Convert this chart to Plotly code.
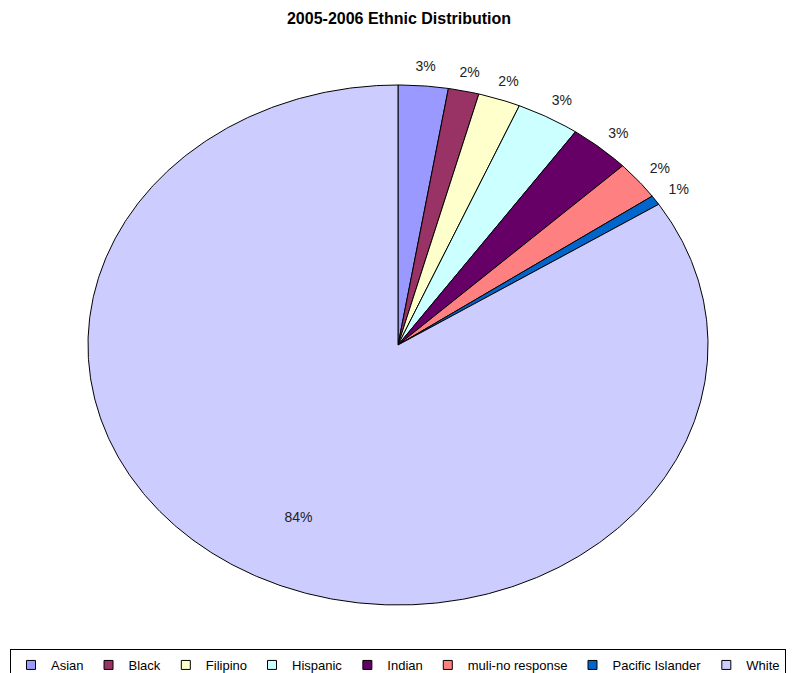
import numpy as np
import plotly.graph_objects as go

# ---- data (percent of students) ----
categories = ["Asian", "Black", "Filipino", "Hispanic", "Indian",
              "muli-no response", "Pacific Islander", "White"]
values = [2.6, 1.6, 2.2, 3.3, 3.2, 2.4, 0.6, 84.1]
colors = ["#9999FF", "#993366", "#FFFFCC", "#CCFFFF", "#660066",
          "#FF8080", "#0066CC", "#CCCCFF"]
title_text = "2005-2006 Ethnic Distribution"

FONT = "Arial, Liberation Sans, sans-serif"

# layout geometry (figure pixels; page body adds an 8px offset)
W, H = 798, 673
CX, CY, RX, RY = 390, 337, 310, 260
# label rings (in units of the pie radius)
OUT_RX, OUT_RY = 1 + 28 / RX, 1 + 18 / RY
IN_RX, IN_RY = 0.67, 0.76

fig = go.Figure()

total = float(sum(values))
start = 0.0
label_x, label_y, label_t = [], [], []
for cat, val, col in zip(categories, values, colors):
    frac = val / total
    a0, a1 = start * 2 * np.pi, (start + frac) * 2 * np.pi
    n = max(3, int(frac * 720))
    t = np.linspace(a0, a1, n)
    xs = np.concatenate([[0.0], np.sin(t), [0.0]])
    ys = np.concatenate([[0.0], np.cos(t), [0.0]])
    fig.add_trace(go.Scatter(
        x=xs, y=ys, mode="lines", fill="toself", fillcolor=col,
        line=dict(color="black", width=1), hoverinfo="skip",
        showlegend=False))
    mid = (start + frac / 2) * 2 * np.pi
    rx, ry = (IN_RX, IN_RY) if frac > 0.5 else (OUT_RX, OUT_RY)
    label_x.append(rx * np.sin(mid))
    label_y.append(ry * np.cos(mid))
    label_t.append(f"{round(val / total * 100):.0f}%")
    start += frac

fig.add_trace(go.Scatter(
    x=label_x, y=label_y, mode="text", text=label_t,
    textfont=dict(family=FONT, size=14, color="#222222"),
    cliponaxis=False, hoverinfo="skip", showlegend=False))

# legend entries
for cat, col in zip(categories, colors):
    fig.add_trace(go.Scatter(
        x=[None], y=[None], mode="markers", name=cat,
        marker=dict(symbol="square", size=9, color=col,
                    line=dict(color="black", width=1))))

fig.update_layout(
    width=W, height=H,
    margin=dict(l=0, r=0, t=0, b=0, autoexpand=False),
    paper_bgcolor="white", plot_bgcolor="white",
    title=dict(text=f"<b>{title_text}</b>", x=(CX + 1) / W, xanchor="center",
               y=1 - 10 / H, yanchor="middle", yref="container",
               font=dict(family=FONT, size=16, color="black")),
    xaxis=dict(range=[-CX / RX, (W - CX) / RX], visible=False, fixedrange=True),
    yaxis=dict(range=[-(H - CY) / RY, CY / RY], visible=False, fixedrange=True),
    legend=dict(orientation="h", xref="paper", yref="paper",
                x=2 / W, xanchor="left", y=1 - 641 / H, yanchor="top",
                bordercolor="black", borderwidth=1, itemwidth=30,
                font=dict(family=FONT, size=13, color="black"),
                bgcolor="white"),
    showlegend=True,
)

fig.write_html("out.html")
